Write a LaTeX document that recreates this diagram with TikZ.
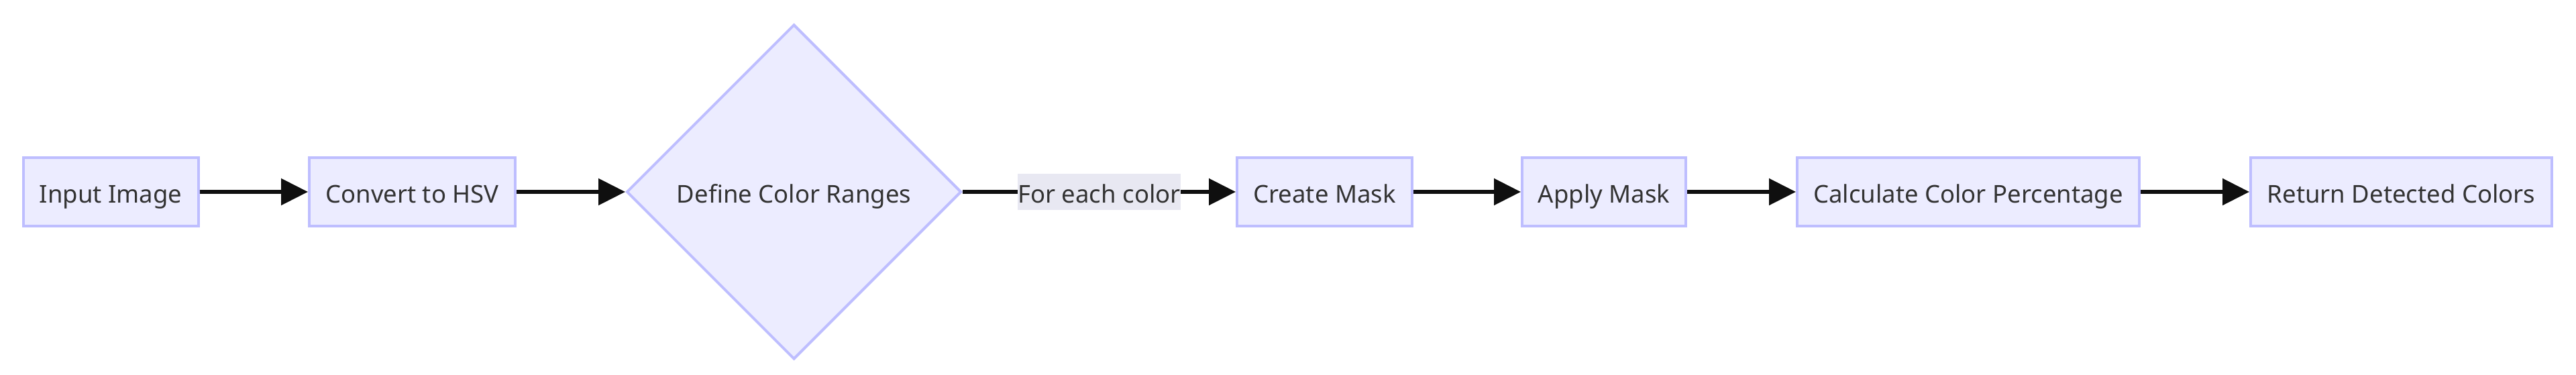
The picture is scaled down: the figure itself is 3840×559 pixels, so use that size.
\documentclass[tikz,border=0pt]{standalone}
\usepackage{fontspec}
\setmainfont{Noto Sans}
\usetikzlibrary{arrows.meta,shapes.geometric}
\definecolor{nodefill}{RGB}{236,236,255}
\definecolor{nodeborder}{RGB}{190,190,255}
\definecolor{labelfill}{RGB}{232,232,242}
\definecolor{txt}{RGB}{51,51,51}
\definecolor{edgecol}{RGB}{15,15,15}
\begin{document}
\begin{tikzpicture}[x=1pt,y=-1pt,
  txtfont/.style={text=txt, font=\fontsize{36.5}{44}\selectfont, text height=32pt, text depth=0pt},
  box/.style={draw=nodeborder, fill=nodefill, line width=4pt, minimum height=102pt, inner sep=0pt, txtfont},
  decision/.style={diamond, draw=nodeborder, fill=nodefill, line width=4pt, minimum width=499pt, minimum height=499pt, inner sep=0pt, aspect=1, txtfont},
  flow/.style={draw=edgecol, line width=5.5pt, -{Triangle[length=40pt,width=39pt]}},
  elabel/.style={fill=labelfill, inner xsep=0pt, inner ysep=0pt, minimum height=54pt, txtfont}]
\useasboundingbox (0,0) rectangle (3840,559);
\fill[white] (0,0) rectangle (3840,559);
\node[box, minimum width=261pt] (A) at (165,286) {Input Image};
\node[box, minimum width=307pt] (B) at (614.5,286) {Convert to HSV};
\node[decision] (C) at (1183.5,286) {Define Color Ranges};
\node[box, minimum width=261pt] (D) at (1974.5,286) {Create Mask};
\node[box, minimum width=244pt] (E) at (2391,286) {Apply Mask};
\node[box, minimum width=510pt] (F) at (2934,286) {Calculate Color Percentage};
\node[box, minimum width=449pt] (G) at (3579.5,286) {Return Detected Colors};
\draw[flow] (A) -- (B);
\draw[flow] (B) -- (C);
\draw[flow] (C) -- node[elabel] {For each color} (D);
\draw[flow] (D) -- (E);
\draw[flow] (E) -- (F);
\draw[flow] (F) -- (G);
\end{tikzpicture}
\end{document}
